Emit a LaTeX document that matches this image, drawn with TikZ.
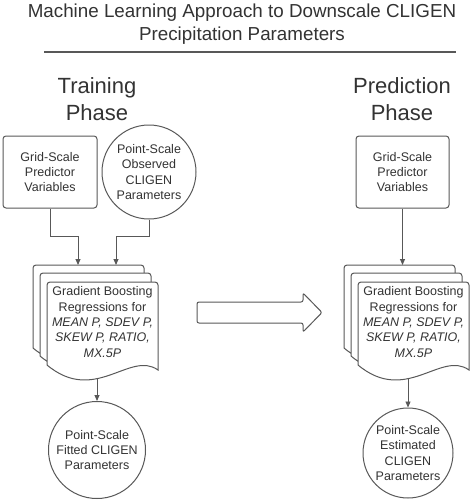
\documentclass[tikz,border=0pt]{standalone}
\usepackage{fontspec}
\setmainfont{Liberation Sans}
\usetikzlibrary{arrows.meta}
\definecolor{txtc}{HTML}{333333}
\definecolor{linec}{HTML}{585858}
\tikzset{
  txt/.style={text=txtc, align=center, inner sep=0pt, font=\fontsize{12.5}{15.3}\selectfont},
  box/.style={txt, draw=linec, line width=1pt, rounded corners=3pt, fill=white},
  circ/.style={txt, draw=linec, line width=1pt, circle, fill=white},
  conn/.style={draw=linec, line width=0.9pt, -{Triangle[length=6pt,width=5pt]}},
  sheet/.style={draw=linec, line width=1pt, fill=white},
  docs/.pic={
    \foreach \dx/\dy in {-14/-17,-7/-9,0/0}{
      \path[sheet] (\dx,\dy+83) [rounded corners=3pt] -- (\dx,\dy) -- (\dx+111,\dy) [sharp corners] -- (\dx+111,\dy+88)
        .. controls (\dx+83,\dy+68) and (\dx+48,\dy+123) .. (\dx,\dy+83) -- cycle;
    }
  }
}
\begin{document}
\begin{tikzpicture}[x=1pt,y=-1pt]
\useasboundingbox[fill=white] (0,0) rectangle (474,503);
% title
\node[txt, font=\fontsize{18.8}{22.7}\selectfont] (title) at (242,24) {Machine Learning Approach to Downscale CLIGEN\\Precipitation Parameters};
\coordinate (ruleL) at (44,52);
\coordinate (ruleR) at (456,52);
\draw[draw=linec, line width=1.1pt] (ruleL) -- (ruleR);
% phases
\node[txt, font=\fontsize{22}{27}\selectfont] (train) at (97,99) {Training\\Phase};
\node[txt, font=\fontsize{22}{27}\selectfont] (pred) at (402,99) {Prediction\\Phase};
% left inputs
\node[box, minimum width=94pt, minimum height=72pt] (gridL) at (50,172) {Grid-Scale\\Predictor\\Variables};
\node[circ, minimum size=94pt] (obs) at (149,172) {Point-Scale\\Observed\\CLIGEN\\Parameters};
% right input
\node[box, minimum width=93pt, minimum height=72pt] (gridR) at (402.5,172) {Grid-Scale\\Predictor\\Variables};
% document stacks
\pic at (47,282) {docs};
\pic at (358,282) {docs};
\node[txt] (regL) at (102.5,322) {Gradient Boosting\\Regressions for\\\textit{MEAN P, SDEV P,}\\\textit{SKEW P, RATIO,}\\\textit{MX.5P}};
\node[txt] (regR) at (413.5,322) {Gradient Boosting\\Regressions for\\\textit{MEAN P, SDEV P,}\\\textit{SKEW P, RATIO,}\\\textit{MX.5P}};
\coordinate (inL1) at (78,265);
\coordinate (inL2) at (116,265);
\coordinate (inR) at (402.5,265);
\coordinate (outL) at (97,379);
\coordinate (outR) at (408,379);
% outputs
\node[circ, minimum size=97pt] (fitL) at (97,450) {Point-Scale\\Fitted CLIGEN\\Parameters};
\node[circ, minimum size=90pt] (estR) at (408,453) {Point-Scale\\Estimated\\CLIGEN\\Parameters};
% connectors
\draw[conn] (gridL.south) -- (gridL.south |- 0,236) -| (inL1);
\draw[conn] (obs.south) -- (obs.south |- 0,236) -| (inL2);
\draw[conn] (gridR.south) -- (inR);
\draw[conn] (outL) -- (fitL.north);
\draw[conn] (outR) -- (estR.north);
% big arrow
\draw[draw=linec, line width=1pt, fill=white, rounded corners=2pt]
  (197,302) -- (303,302) -- (303,293) -- (322,312.5) -- (303,332) -- (303,323) -- (197,323) -- cycle;
\end{tikzpicture}
\end{document}
